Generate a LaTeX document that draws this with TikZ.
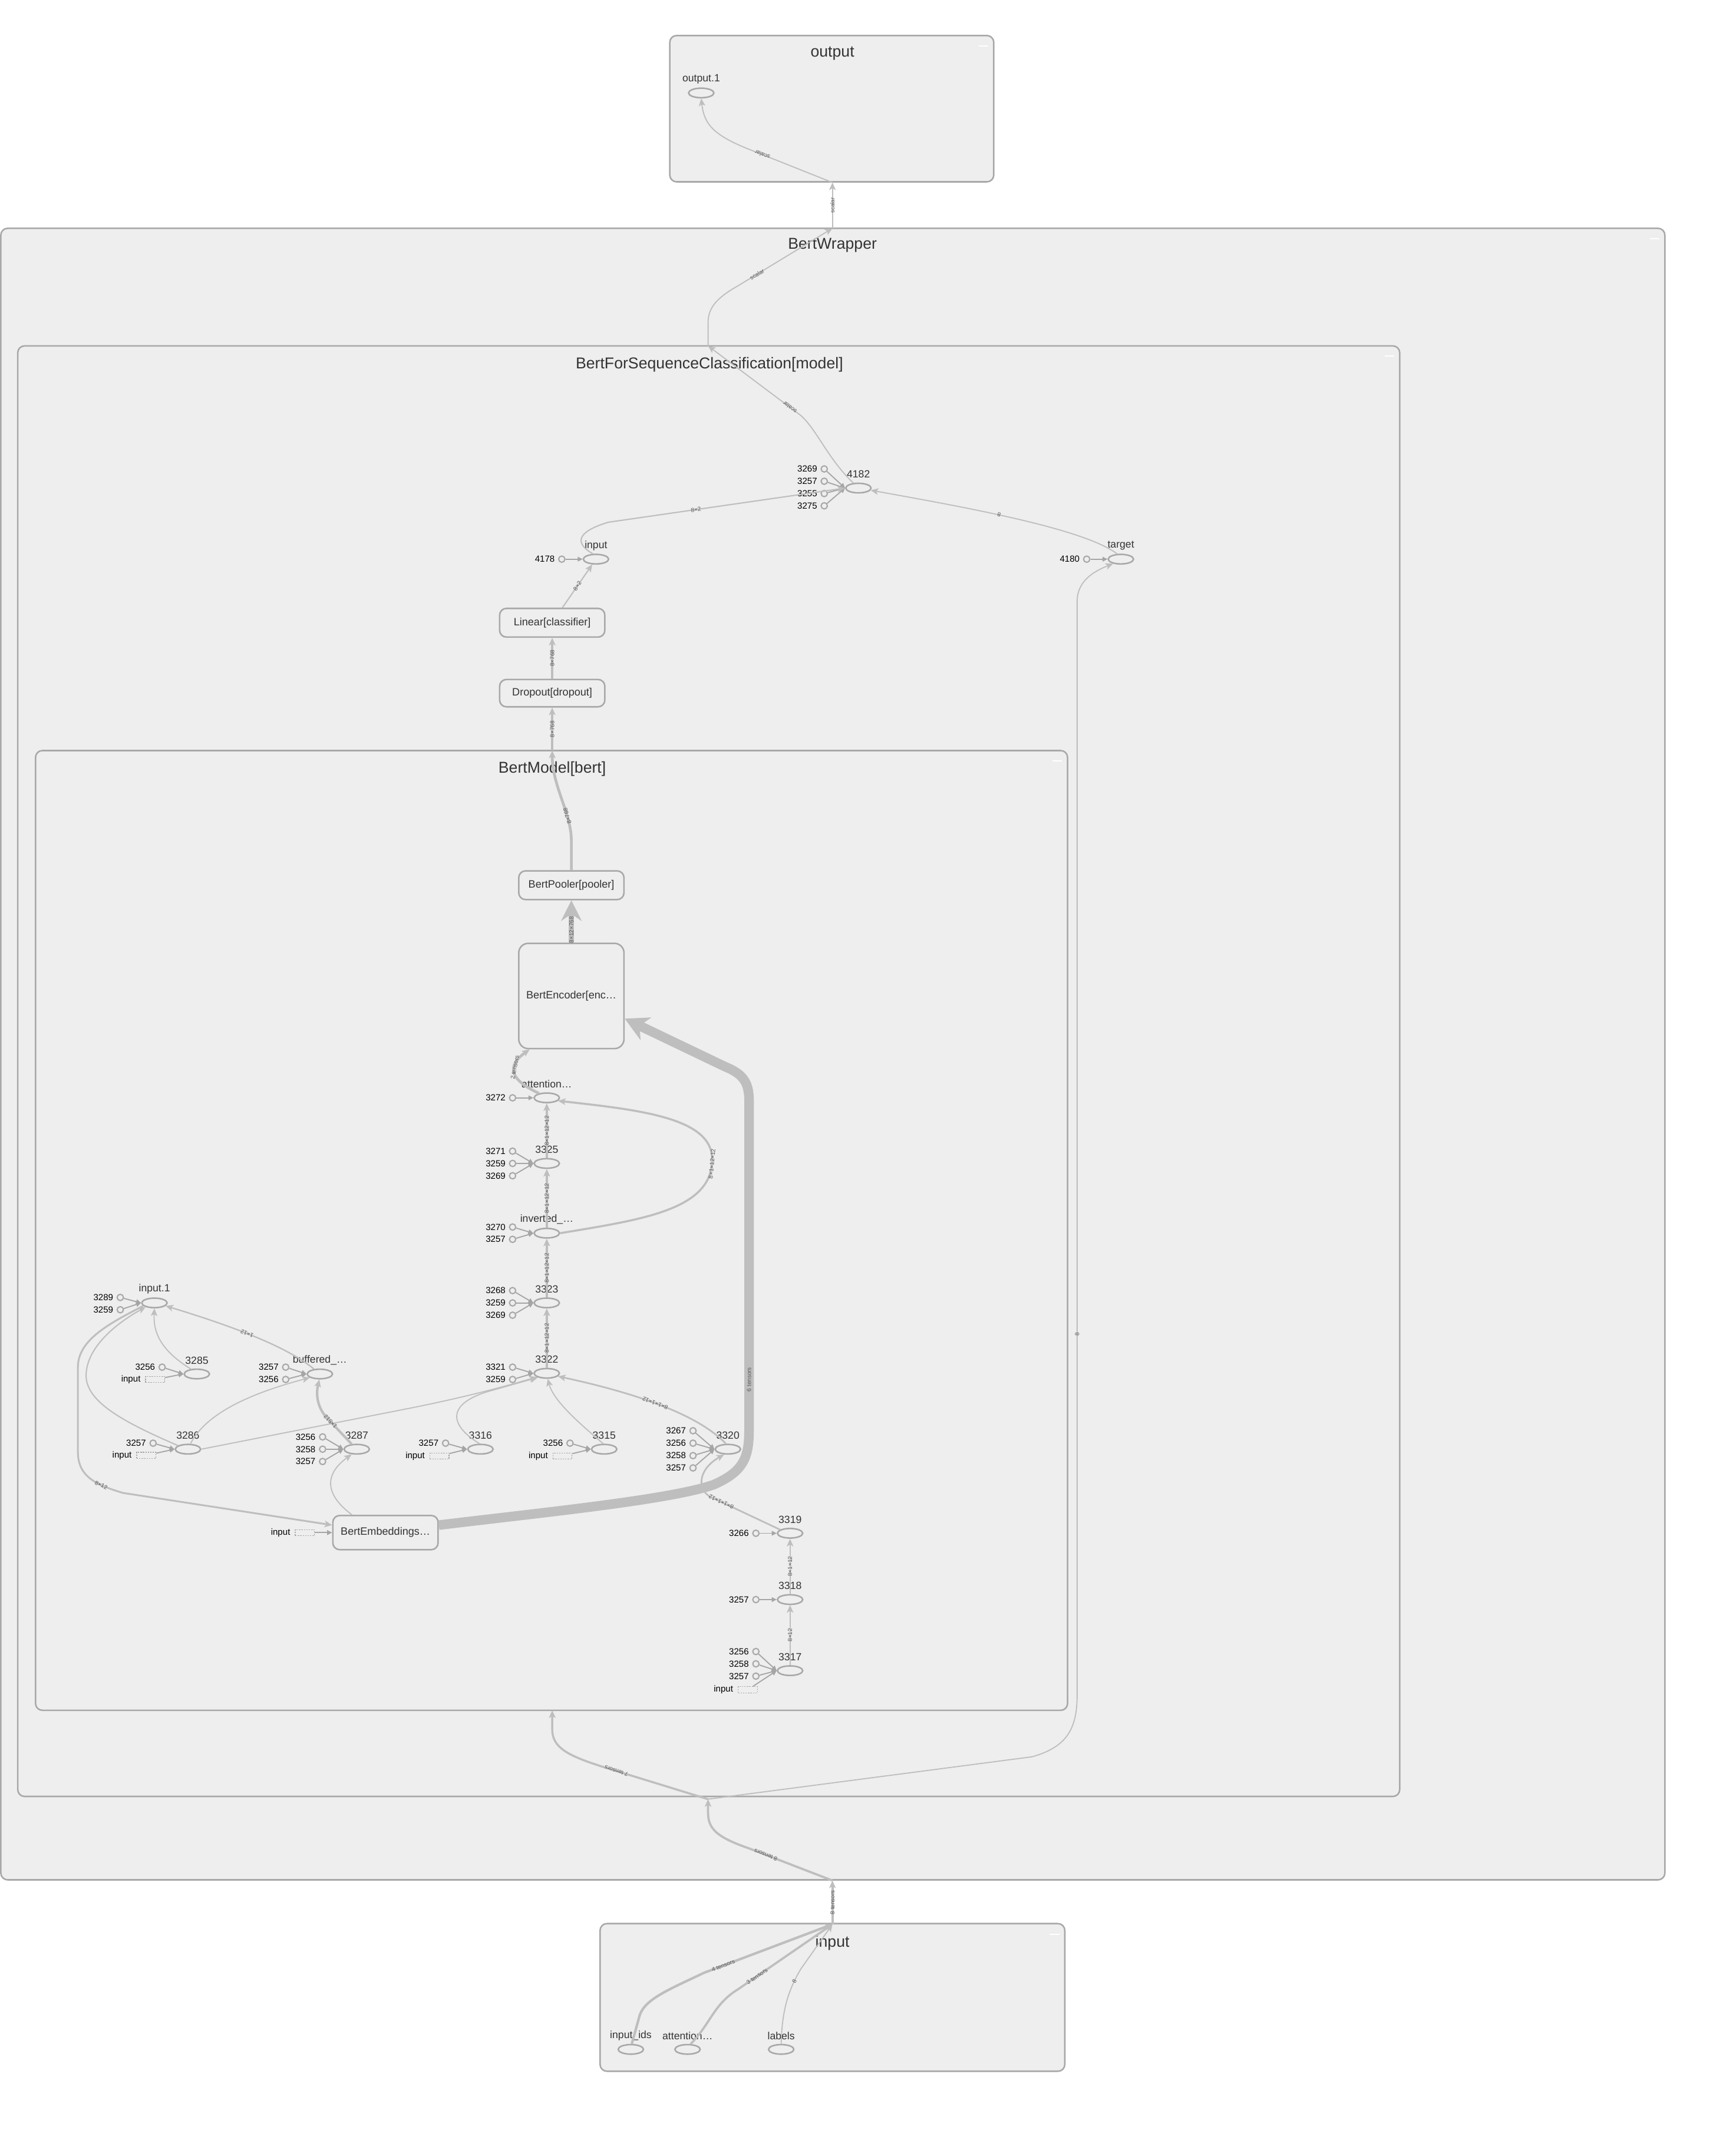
\documentclass[tikz,border=0pt]{standalone}
\usepackage{fontspec}
\setmainfont{Liberation Sans}
\usetikzlibrary{arrows.meta,shapes.geometric}
\definecolor{bd}{RGB}{168,168,168}
\definecolor{cf}{RGB}{238,238,238}
\definecolor{eg}{RGB}{190,190,190}
\definecolor{cg}{RGB}{165,165,165}
\definecolor{tx}{RGB}{51,51,51}
\definecolor{el}{RGB}{90,90,90}
\newcommand{\opnode}[4]{%
  \node[op] (#1) at (#2,#3) {};
  \node[nlab] (#1l) at (#2,{#3-10}) {#4};}
\newcommand{\constnode}[5]{%
  \node[cst] (#1) at (#2,#3) {};
  \node[clab] (#1l) at ({#2-5},#3) {#4};
  \draw[cedge] (#1) -- (#5.west);}
\newcommand{\refnode}[4]{%
  \node[refb] (#1) at (#2,#3) {};
  \node[clab] (#1l) at ({#2-10.5},#3) {input};
  \draw[cedge] (#1) -- (#4.west);}
\begin{document}
\begin{tikzpicture}[x=1pt,y=-1pt,
  cluster/.style={draw=bd, fill=cf, line width=1.1pt, rounded corners=5pt},
  ttl/.style={font=\fontsize{11.5}{13}\selectfont, text=tx, inner sep=0pt},
  op/.style={ellipse, draw=bd, fill=cf, line width=1.1pt, minimum width=18.5pt, minimum height=7pt, inner sep=0pt},
  cst/.style={circle, draw=bd, fill=cf, line width=0.9pt, minimum size=4.6pt, inner sep=0pt},
  refb/.style={draw=bd, dash pattern=on 1pt off 0.8pt, line width=0.5pt, minimum width=14pt, minimum height=4.5pt, inner sep=0pt},
  mod/.style={draw=bd, fill=cf, line width=1.1pt, rounded corners=5pt, font=\fontsize{7.8}{9}\selectfont, text=tx, inner sep=1pt},
  nlab/.style={font=\fontsize{7.6}{9}\selectfont, text=tx, inner sep=0pt},
  clab/.style={font=\fontsize{6.5}{8}\selectfont, text=black, anchor=east, inner sep=0pt},
  elab/.style={font=\fontsize{4.3}{5}\selectfont, text=el, sloped, allow upside down, inner sep=0.3pt},
  flow/.style={draw=eg, line width=#1, -{Stealth[length=5.5pt,width=4.8pt,inset=1.3pt]}},
  flow/.default=0.9pt,
  cedge/.style={draw=cg, line width=0.8pt, -{Triangle[length=3.6pt,width=3.4pt]}},
]
\useasboundingbox (0,0) rectangle (1270,1567.5);
\fill[white] (0,0) rectangle (1270,1567.5);

% clusters
\draw[cluster] (490,26) rectangle (727,133);
\draw[cluster] (0.6,167) rectangle (1218,1375);
\draw[cluster] (13,253) rectangle (1024,1314);
\draw[cluster] (26,549) rectangle (781,1251);
\draw[cluster] (439,1407) rectangle (779,1515);
\foreach \rx/\ty in {727/33.5,1218/174.5,1024/260.5,781/556.5,779/1415}
  \draw[white, line width=1pt] ({\rx-11},\ty) -- ({\rx-4},\ty);

\node[ttl] (tOut) at (609,39) {output};
\node[ttl] (tBW) at (609,179.5) {BertWrapper};
\node[ttl] (tBF) at (519,266.5) {BertForSequenceClassification[model]};
\node[ttl] (tBM) at (404,562.5) {BertModel[bert]};
\node[ttl] (tIn) at (609,1421) {input};

% crossing points
\coordinate (outBot) at (609,133.5);
\coordinate (bwTop) at (609,167);
\coordinate (bfTop) at (518,253);
\coordinate (bmTop) at (404,549);
\coordinate (bmBot) at (404,1251);
\coordinate (junc) at (518,1316);
\coordinate (bwBot) at (609,1375.5);
\coordinate (inTop) at (609,1407.5);

% module boxes
\node[mod, minimum width=77pt, minimum height=21pt] (lin) at (404,455.5) {Linear[classifier]};
\node[mod, minimum width=77pt, minimum height=20pt] (drop) at (404,507) {Dropout[dropout]};
\node[mod, minimum width=77pt, minimum height=21pt] (pool) at (418,647.5) {BertPooler[pooler]};
\node[mod, minimum width=77pt, minimum height=77pt, rounded corners=7pt] (enc) at (418,728.5) {BertEncoder[enc…};
\node[mod, minimum width=77pt, minimum height=25pt] (emb) at (282,1121) {BertEmbeddings…};

% op nodes
\opnode{out1}{513}{68}{output.1}
\opnode{o4182}{628}{357}{4182}
\opnode{oin}{436}{409}{input}
\opnode{otg}{820}{409}{target}
\opnode{oatt}{400}{803}{attention…}
\opnode{o3325}{400}{851}{3325}
\opnode{oinv}{400}{902}{inverted\_…}
\opnode{o3323}{400}{953}{3323}
\opnode{o3322}{400}{1004.5}{3322}
\opnode{o3316}{351.5}{1060}{3316}
\opnode{o3315}{442}{1060}{3315}
\opnode{o3320}{532.5}{1060}{3320}
\opnode{o3319}{578}{1121.5}{3319}
\opnode{o3318}{578}{1170}{3318}
\opnode{o3317}{578}{1222}{3317}
\opnode{oin1}{113}{953}{input.1}
\opnode{o3285}{144}{1005}{3285}
\opnode{obuf}{234}{1005}{buffered\_…}
\opnode{o3286}{137.5}{1060}{3286}
\opnode{o3287}{261}{1060}{3287}
\opnode{oids}{461.5}{1499}{input\_ids}
\opnode{oattm}{503}{1499}{attention…}
\opnode{olab}{571.5}{1499}{labels}

% constants
\constnode{k1}{603}{343}{3269}{o4182}
\constnode{k2}{603}{352}{3257}{o4182}
\constnode{k3}{603}{361}{3255}{o4182}
\constnode{k4}{603}{370}{3275}{o4182}
\constnode{k5}{411}{409}{4178}{oin}
\constnode{k6}{795}{409}{4180}{otg}
\constnode{k7}{375}{803}{3272}{oatt}
\constnode{k8}{375}{842}{3271}{o3325}
\constnode{k9}{375}{851}{3259}{o3325}
\constnode{k10}{375}{860}{3269}{o3325}
\constnode{k11}{375}{897.5}{3270}{oinv}
\constnode{k12}{375}{906.5}{3257}{oinv}
\constnode{k13}{375}{944}{3268}{o3323}
\constnode{k14}{375}{953}{3259}{o3323}
\constnode{k15}{375}{962}{3269}{o3323}
\constnode{k16}{375}{1000}{3321}{o3322}
\constnode{k17}{375}{1009}{3259}{o3322}
\constnode{k18}{326}{1055.6}{3257}{o3316}
\refnode{r1}{321.5}{1065}{o3316}
\constnode{k19}{417}{1055.6}{3256}{o3315}
\refnode{r2}{411.5}{1065}{o3315}
\constnode{k20}{507}{1046.5}{3267}{o3320}
\constnode{k21}{507}{1055.6}{3256}{o3320}
\constnode{k22}{507}{1064.7}{3258}{o3320}
\constnode{k23}{507}{1073.7}{3257}{o3320}
\constnode{k24}{553}{1121.5}{3266}{o3319}
\constnode{k25}{553}{1170}{3257}{o3318}
\constnode{k26}{553}{1208}{3256}{o3317}
\constnode{k27}{553}{1217}{3258}{o3317}
\constnode{k28}{553}{1226}{3257}{o3317}
\refnode{r3}{547}{1236}{o3317}
\constnode{k29}{88}{949}{3289}{oin1}
\constnode{k30}{88}{958}{3259}{oin1}
\constnode{k31}{118.6}{1000}{3256}{o3285}
\refnode{r4}{113.5}{1009}{o3285}
\constnode{k32}{209}{1000}{3257}{obuf}
\constnode{k33}{209}{1009}{3256}{obuf}
\constnode{k34}{112}{1055.6}{3257}{o3286}
\refnode{r5}{107}{1064.5}{o3286}
\constnode{k35}{236}{1051}{3256}{o3287}
\constnode{k36}{236}{1060}{3258}{o3287}
\constnode{k37}{236}{1069}{3257}{o3287}
\refnode{r6}{223}{1121}{emb}

% output / wrapper edges
\draw[flow=0.9pt] (bwTop) -- node[elab]{scalar} (outBot);
\draw[flow=0.8pt] (outBot) -- node[elab,pos=0.8]{scalar} (545,108) .. controls (521,98) and (515,90) .. (out1.south);
\draw[flow=0.8pt] (bfTop) -- (518,236) .. controls (518,224) and (526,217) .. (540,209) -- node[elab,pos=0.2]{scalar} (bwTop);
\draw[flow=0.8pt] (o4182.135) .. controls (606,336) and (598,315) .. (586,304) -- node[elab,pos=0.12]{scalar} (bfTop);

% BertForSequenceClassification edges
\draw[flow=0.9pt] (oin.120) .. controls (418,396) and (425,388) .. (445,382) -- node[elab,pos=0.37]{8×2} (o4182.west);
\draw[flow=0.8pt] (otg.125) .. controls (792,386) and (700,370) .. node[elab,pos=0.55]{8} (o4182.-10);
\draw[flow=0.8pt] (junc) -- (755,1285) .. controls (780,1278) and (788,1265) .. (788,1240) -- node[elab,pos=0.33]{8} (788,440) .. controls (788,425) and (800,418) .. (otg.210);
\draw[flow=1.6pt] (bwBot) -- node[elab,pos=0.8]{8 tensors} (548,1352) .. controls (525,1344) and (518,1338) .. (518,1326) -- (junc);
\draw[flow=1.5pt] (junc) -- node[elab,pos=0.86]{7 tensors} (440,1292) .. controls (415,1284) and (404,1278) .. (404,1265) -- (bmBot);
\draw[flow=0.9pt] (lin.56) -- node[elab]{8×2} (oin.235);
\draw[flow=2pt] (drop.north) -- node[elab]{8×768} (lin.south);
\draw[flow=2pt] (bmTop) -- node[elab]{8×768} (drop.south);
\draw[flow=2pt] (pool.north) -- (418,615) .. controls (418,595) and (404,575) .. node[elab,pos=0.3]{8×768} (bmTop);

% input cluster edges
\draw[flow=1.8pt] (oids.80) -- (468,1474) .. controls (472,1462) and (490,1455) .. (515,1443) -- node[elab,pos=0.15]{4 tensors} (inTop);
\draw[flow=1.6pt] (oattm.60) .. controls (520,1480) and (522,1466) .. (540,1455) -- node[elab,pos=0.2]{3 tensors} (inTop);
\draw[flow=0.8pt] (olab.north) .. controls (572,1470) and (577,1455) .. node[elab,pos=0.8]{8} (586,1440) -- (inTop);
\draw[flow=1.8pt] (inTop) -- node[elab]{8 tensors} (bwBot);

% BertModel edges
\draw[draw=eg, line width=4pt, -{Stealth[length=15pt,width=15pt,inset=5pt]}] (enc.north) -- node[elab,pos=0.3]{8×12×768} (pool.south);
\draw[draw=eg, line width=7pt, -{Stealth[length=17pt,width=18pt,inset=5pt]}] (emb.8) .. controls (400,1106) and (490,1097) .. (522,1086) .. controls (545,1076) and (548,1065) .. (548,1045) -- node[elab,pos=0.15]{6 tensors} (548,805) .. controls (548,790) and (542,785) .. (530,780) -- (enc.-23);
\draw[flow=2pt] (oatt.150) .. controls (380,793) and (366,783) .. node[elab,pos=0.68]{2 tensors} (enc.232);
\draw[flow=1.5pt] (o3325.north) -- node[elab]{8×1×12×12} (oatt.south);
\draw[flow=1.5pt] (oinv.north) -- node[elab]{8×1×12×12} (o3325.south);
\draw[flow=1.5pt] (o3323.north) -- node[elab]{8×1×12×12} (oinv.south);
\draw[flow=1.5pt] (o3322.north) -- node[elab]{8×1×12×12} (o3323.south);
\draw[flow=1.5pt] (oinv.east) .. controls (470,892) and (521,885) .. node[elab,pos=0.97]{8×1×12×12} (521,848) .. controls (521,818) and (470,812) .. (oatt.-15);
\draw[flow=0.8pt] (o3286.east) -- (300,1030) .. controls (340,1022) and (370,1014) .. (o3322.200);
\draw[flow=0.8pt] (o3316.100) .. controls (325,1040) and (330,1025) .. (360,1017) -- (o3322.205);
\draw[flow=0.8pt] (o3315.100) .. controls (425,1042) and (405,1025) .. (o3322.280);
\draw[flow=1.2pt] (o3320.110) .. controls (512,1036) and (470,1020) .. node[elab,pos=0.55]{8×1×1×12} (o3322.-15);
\draw[flow=1.2pt] (o3319.160) -- node[elab,pos=0.85]{8×1×1×12} (520,1095) .. controls (510,1090) and (510,1075) .. (o3320.235);
\draw[flow=1pt] (o3318.north) -- node[elab]{8×1×12} (o3319.south);
\draw[flow=1pt] (o3317.north) -- node[elab]{8×12} (o3318.south);

% left cluster edges
\draw[flow=0.8pt] (o3285.140) .. controls (118,988) and (112,975) .. (oin1.south);
\draw[flow=1pt] (obuf.140) .. controls (210,985) and (170,970) .. node[elab,pos=0.55]{1×12} (oin1.-15);
\draw[flow=0.9pt] (o3286.160) .. controls (90,1040) and (62,1025) .. (63,1005) .. controls (64,985) and (85,968) .. (oin1.205);
\draw[flow=1.3pt] (oin1.195) .. controls (80,968) and (57,980) .. (57,1000) -- (57,1062) .. controls (57,1080) and (70,1086) .. node[elab,pos=0.7]{8×12} (90,1092) -- (emb.172);
\draw[flow=0.8pt] (o3286.65) .. controls (150,1035) and (180,1020) .. (obuf.200);
\draw[flow=1.8pt] (o3287.135) -- node[elab,pos=0.9]{1×512} (240,1038) .. controls (232,1030) and (231,1020) .. (obuf.265);
\draw[flow=0.8pt] (emb.152) .. controls (240,1095) and (235,1080) .. (o3287.225);
\end{tikzpicture}
\end{document}
